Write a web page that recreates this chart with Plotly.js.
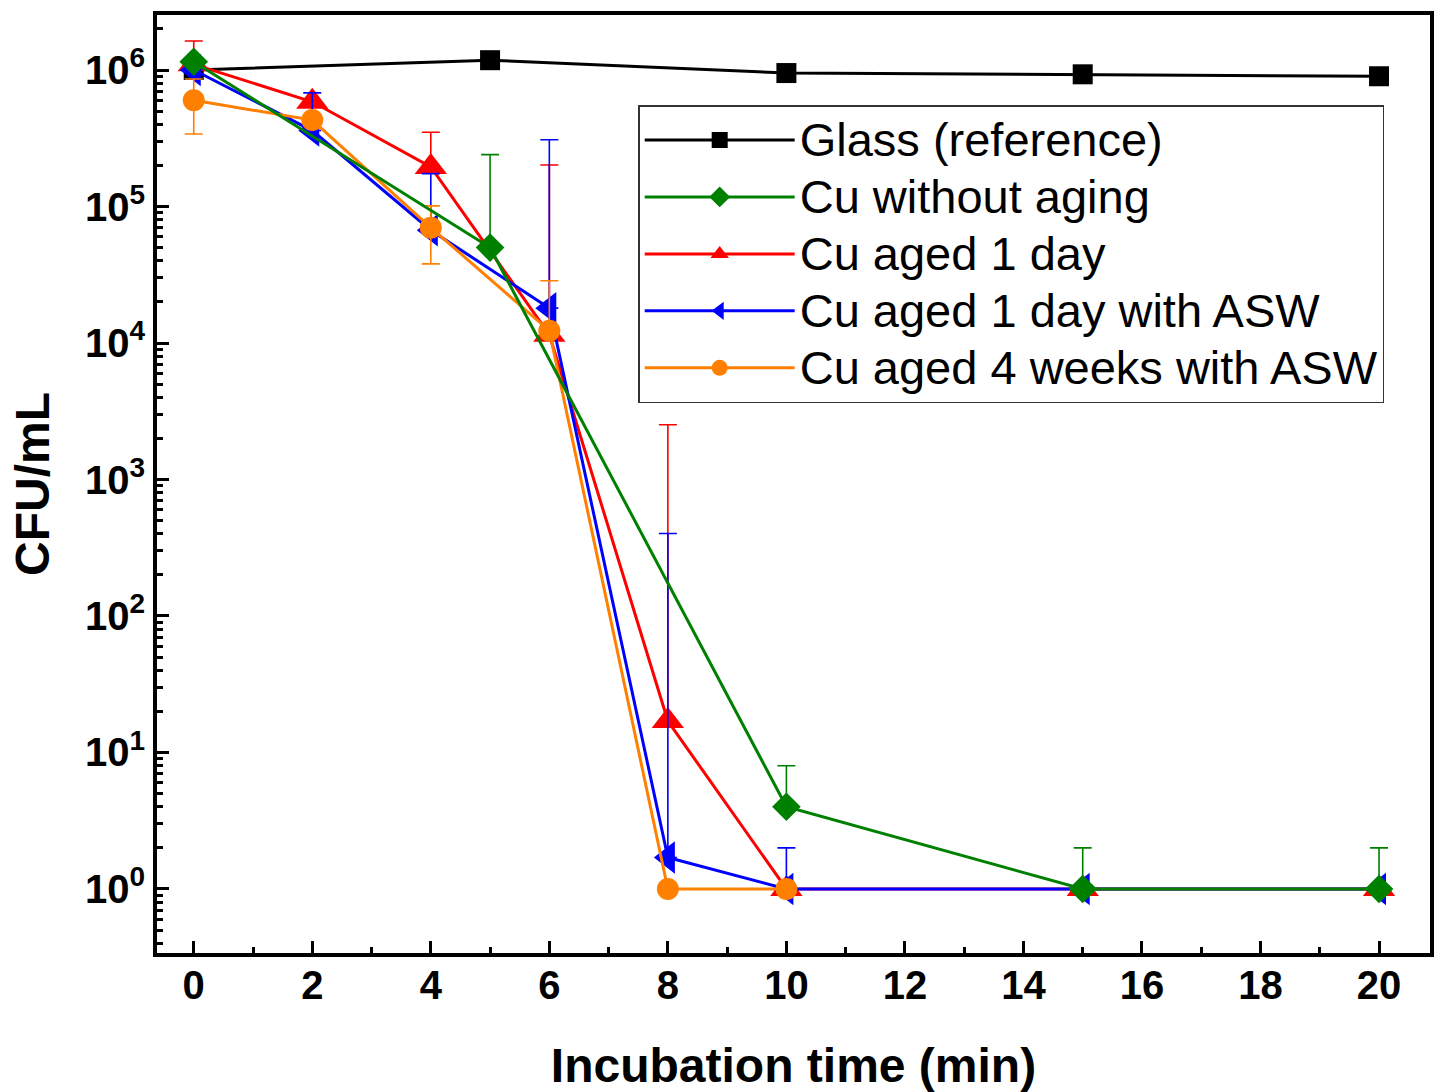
<!DOCTYPE html>
<html>
<head>
<meta charset="utf-8">
<script src="https://cdn.plot.ly/plotly-3.0.1.min.js"></script>
<style>html,body{margin:0;padding:0;background:#fff;}#chart{width:1435px;height:1092px;}</style>
</head>
<body>
<div id="chart"></div>
<script>
// ---- data ----
const seriesNames = ["Glass (reference)", "Cu without aging", "Cu aged 1 day", "Cu aged 1 day with ASW", "Cu aged 4 weeks with ASW"];

const glassX = [0, 5, 10, 15, 20];
const glassY = [1.0e6, 1.18e6, 9.5e5, 9.3e5, 9.0e5];

const cuNoAgingX = [0, 5, 10, 15, 20];
const cuNoAgingY = [1.15e6, 5.0e4, 4, 1, 1];
const cuNoAgingErrPlus = [0, 1.9e5, 4, 1, 1];
const cuNoAgingErrMinus = [0, 0, 0, 0, 0];

const cu1dX = [0, 2, 4, 6, 8, 10, 15, 20];
const cu1dY = [1.1e6, 5.85e5, 1.95e5, 1.15e4, 17, 1, 1, 1];
const cu1dErrPlus = [5.3e5, 0, 1.55e5, 1.9e5, 2.5e3, 0, 0, 0];
const cu1dErrMinus = [0, 0, 0, 0, 0, 0, 0, 0];

const cu1dAswX = [0, 2, 4, 6, 8, 10, 15, 20];
const cu1dAswY = [1.0e6, 3.6e5, 6.7e4, 1.8e4, 1.7, 1, 1, 1];
const cu1dAswErrPlus = [0, 3.2e5, 1.07e5, 2.9e5, 4.0e2, 1, 0, 0];
const cu1dAswErrMinus = [0, 0, 0, 0, 0, 0, 0, 0];

const cu4wAswX = [0, 2, 4, 6, 8, 10];
const cu4wAswY = [6.0e5, 4.3e5, 7.0e4, 1.23e4, 1, 1];
const cu4wAswErrPlus = [2.6e5, 0, 3.1e4, 1.63e4, 0, 0];
const cu4wAswErrMinus = [2.6e5, 0, 3.2e4, 0, 0, 0];

const xTickVals = [0, 2, 4, 6, 8, 10, 12, 14, 16, 18, 20];
const yTickVals = [1, 10, 100, 1000, 10000, 100000, 1000000];
const yTickText = ["10<sup>0</sup>", "10<sup>1</sup>", "10<sup>2</sup>", "10<sup>3</sup>", "10<sup>4</sup>", "10<sup>5</sup>", "10<sup>6</sup>"];

const colors = {glass: "#000000", noAging: "#008000", d1: "#FF0000", d1asw: "#0000FF", w4asw: "#FF8000"};

// minor tick positions for the log axis (2..9 per decade)
const yMinor = [];
for (let e = -1; e <= 6; e++) {
  for (let k = 2; k <= 9; k++) yMinor.push(k * Math.pow(10, e));
}
const xMinor = [];
for (let v = -1; v <= 21; v += 2) xMinor.push(v);

function errObj(plus, minus, color) {
  return {type: "data", symmetric: false, array: plus, arrayminus: minus, color: color, thickness: 1.6, width: 9, visible: true};
}
function legName(s) {
  return '<span style="font-size:47px">' + s + '</span>';
}

const lw = 3;
const traces = [
  {x: glassX, y: glassY, name: legName(seriesNames[0]), legendrank: 1, mode: "lines+markers",
   line: {color: colors.glass, width: lw}, marker: {symbol: "square", size: 20, color: colors.glass}},
  {x: cu1dX, y: cu1dY, name: legName(seriesNames[2]), legendrank: 3, mode: "lines+markers",
   line: {color: colors.d1, width: lw}, marker: {symbol: "triangle-up", size: 28, color: colors.d1},
   error_y: errObj(cu1dErrPlus, cu1dErrMinus, colors.d1)},
  {x: cu1dAswX, y: cu1dAswY, name: legName(seriesNames[3]), legendrank: 4, mode: "lines+markers",
   line: {color: colors.d1asw, width: lw}, marker: {symbol: "triangle-left", size: 28, color: colors.d1asw},
   error_y: errObj(cu1dAswErrPlus, cu1dAswErrMinus, colors.d1asw)},
  {x: cu4wAswX, y: cu4wAswY, name: legName(seriesNames[4]), legendrank: 5, mode: "lines+markers",
   line: {color: colors.w4asw, width: lw}, marker: {symbol: "circle", size: 22, color: colors.w4asw},
   error_y: errObj(cu4wAswErrPlus, cu4wAswErrMinus, colors.w4asw)},
  {x: cuNoAgingX, y: cuNoAgingY, name: legName(seriesNames[1]), legendrank: 2, mode: "lines+markers",
   line: {color: colors.noAging, width: lw}, marker: {symbol: "diamond", size: 22, color: colors.noAging},
   error_y: errObj(cuNoAgingErrPlus, cuNoAgingErrMinus, colors.noAging)}
];

const tickFont = {family: "Liberation Sans, Arial, sans-serif", size: 40, color: "#000", weight: "bold"};
const titleFont = {family: "Liberation Sans, Arial, sans-serif", size: 48, color: "#000", weight: "bold"};

const layout = {
  width: 1435, height: 1092,
  margin: {l: 157, r: 5, t: 15, b: 139},
  paper_bgcolor: "#fff", plot_bgcolor: "#fff",
  showlegend: true,
  legend: {
    x: 0.378, y: 0.904, xanchor: "left", yanchor: "top",
    bgcolor: "#fff", bordercolor: "#333", borderwidth: 1.5,
    font: {family: "Liberation Sans, Arial, sans-serif", size: 41.5, color: "#000"},
    itemwidth: 150, tracegroupgap: 0, traceorder: "normal"
  },
  xaxis: {
    range: [-0.62, 20.86], tickmode: "array", tickvals: xTickVals,
    ticks: "inside", ticklen: 12, tickwidth: 3, tickcolor: "#000",
    showline: true, linewidth: 4, linecolor: "#000", mirror: true,
    showgrid: false, zeroline: false, tickfont: tickFont, ticklabelstandoff: -6,
    minor: {tickmode: "array", tickvals: xMinor, ticks: "inside", ticklen: 6, tickwidth: 3, tickcolor: "#000", showgrid: false},
    title: {text: "Incubation time (min)", font: titleFont, standoff: 45}
  },
  yaxis: {
    type: "log", range: [-0.469, 6.403], tickmode: "array", tickvals: yTickVals, ticktext: yTickText,
    ticks: "inside", ticklen: 12, tickwidth: 3, tickcolor: "#000",
    showline: true, linewidth: 4, linecolor: "#000", mirror: true,
    showgrid: false, zeroline: false, tickfont: tickFont,
    minor: {tickmode: "array", tickvals: yMinor, ticks: "inside", ticklen: 6, tickwidth: 3, tickcolor: "#000", showgrid: false},
    title: {text: "CFU/mL", font: titleFont, standoff: 21}
  }
};

Plotly.newPlot("chart", traces, layout, {displayModeBar: false, staticPlot: true});
</script>
</body>
</html>
